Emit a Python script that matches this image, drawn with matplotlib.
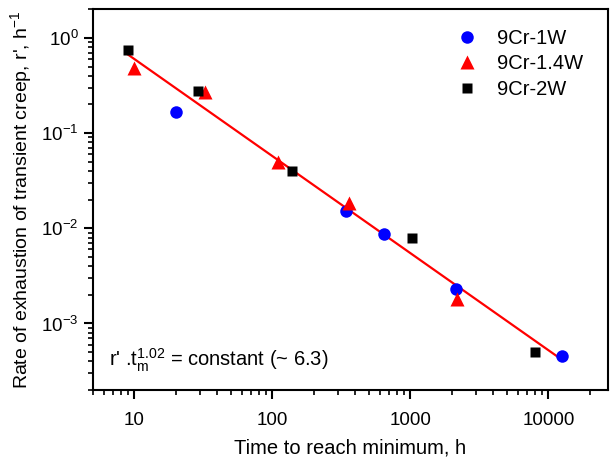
import matplotlib
matplotlib.use("Agg")
import matplotlib.pyplot as plt
from matplotlib.ticker import LogLocator, FixedLocator, FixedFormatter, NullFormatter
import numpy as np

plt.rcParams['font.family'] = ['Liberation Sans', 'DejaVu Sans']
plt.rcParams['mathtext.fontset'] = 'custom'
plt.rcParams['mathtext.rm'] = 'Liberation Sans'
plt.rcParams['mathtext.default'] = 'regular'

# Data
w1_x = [20, 343, 640, 2124, 12540]
w1_y = [0.1655, 0.0151, 0.0088, 0.00231, 0.00046]
w14_x = [10, 32.8, 110, 362, 2160]
w14_y = [0.484, 0.271, 0.0498, 0.0185, 0.00181]
w2_x = [8.95, 29.2, 138, 1028, 8035]
w2_y = [0.753, 0.279, 0.0397, 0.00785, 0.000499]

fit_const = 6.3
fit_exp = 1.02
fit_x = np.array([8.85, 12540])
fit_y = fit_const * fit_x ** (-fit_exp)

xticks = [10, 100, 1000, 10000]
xticklabels = ['10', '100', '1000', '10000']

fig = plt.figure(figsize=(6.11, 4.59), dpi=100)
ax = fig.add_axes([0.1517, 0.1503, 0.995 - 0.1517, 0.9797 - 0.1503])

ax.plot(fit_x, fit_y, color='red', lw=1.6, zorder=2)
ax.plot(w1_x, w1_y, 'o', color='blue', ms=9, mec='none', label='9Cr-1W', zorder=3)
ax.plot(w14_x, w14_y, '^', color='red', ms=10, mec='none', label='9Cr-1.4W', zorder=3)
ax.plot(w2_x, w2_y, 's', color='black', ms=7.5, mec='none', label='9Cr-2W', zorder=3)

ax.set_xscale('log')
ax.set_yscale('log')
ax.set_xlim(5, 27000)
ax.set_ylim(2e-4, 2)

ax.xaxis.set_major_locator(FixedLocator(xticks))
ax.xaxis.set_major_formatter(FixedFormatter(xticklabels))
ax.xaxis.set_minor_locator(LogLocator(base=10, subs=np.arange(2, 10), numticks=20))
ax.xaxis.set_minor_formatter(NullFormatter())
ax.yaxis.set_major_locator(LogLocator(base=10, numticks=10))
ax.yaxis.set_minor_locator(LogLocator(base=10, subs=np.arange(2, 10), numticks=20))
ax.yaxis.set_minor_formatter(NullFormatter())

for s in ax.spines.values():
    s.set_linewidth(1.5)
ax.tick_params(which='major', direction='out', length=6.5, width=1.5, labelsize=13.5, top=False, right=False)
ax.tick_params(axis='x', which='major', pad=9)
ax.tick_params(which='minor', direction='out', length=3.6, width=1.2, top=False, right=False)

ax.set_xlabel('Time to reach minimum, h', fontsize=14.5, labelpad=7)
ax.set_ylabel("Rate of exhaustion of transient creep, r', h$^{-1}$", fontsize=14, labelpad=5)

ax.text(0.032, 0.063, r"r' .t$_{m}^{1.02}$ = constant (~ 6.3)", transform=ax.transAxes,
        fontsize=14.5, ha='left', va='baseline')

leg = ax.legend(loc='upper right', frameon=False, fontsize=14.5, handletextpad=0.5,
                borderaxespad=0.2, labelspacing=0.32, bbox_to_anchor=(0.975, 0.98))

fig.savefig('out.png', dpi=100)
